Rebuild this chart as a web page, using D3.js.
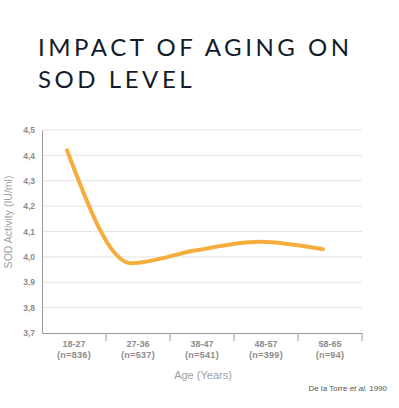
<!DOCTYPE html>
<html>
<head>
<meta charset="utf-8">
<script src="https://cdn.jsdelivr.net/npm/d3@7"></script>
<style>
  body { margin: 0; background: #fff; }
  svg { display: block; }
</style>
</head>
<body>
<div id="chart"></div>
<script>
// data
const ageGroups = ["18-27", "27-36", "38-47", "48-57", "58-65"];
const sampleSizes = ["(n=836)", "(n=537)", "(n=541)", "(n=399)", "(n=94)"];
const sodValues = [4.42, 3.975, 4.025, 4.06, 4.03];
const yTicks = [3.7, 3.8, 3.9, 4.0, 4.1, 4.2, 4.3, 4.4, 4.5];
const titleLines = ["IMPACT OF AGING ON", "SOD LEVEL"];

const width = 399, height = 408;
const margin = { top: 130, right: 37, bottom: 75, left: 42 };
const innerW = 362 - margin.left;
const innerH = 333 - margin.top;

const svg = d3.select("#chart")
  .append("svg")
  .attr("width", width)
  .attr("height", height);

// title
svg.append("g")
  .selectAll("text")
  .data(titleLines)
  .enter()
  .append("text")
  .attr("x", 38)
  .attr("y", (d, i) => 56 + i * 31.5)
  .attr("font-family", "Lato, 'Noto Sans', sans-serif")
  .attr("font-size", 24)
  .attr("letter-spacing", 3.55)
  .attr("fill", "#131c2a")
  .text(d => d);

const g = svg.append("g")
  .attr("transform", "translate(" + margin.left + "," + margin.top + ")");

const x = d3.scaleBand()
  .domain(ageGroups)
  .range([0, innerW]);

const y = d3.scaleLinear()
  .domain([3.7, 4.5])
  .range([innerH, 0]);

const fmt = d => d3.format(".1f")(d).replace(".", ",");

// gridlines
g.append("g")
  .selectAll("line")
  .data(yTicks.slice(1))
  .enter()
  .append("line")
  .attr("x1", 0)
  .attr("x2", innerW)
  .attr("y1", d => y(d))
  .attr("y2", d => y(d))
  .attr("stroke", "#e4e4e4")
  .attr("stroke-width", 1);

// y axis
const yAxis = g.append("g")
  .call(d3.axisLeft(y).tickValues(yTicks).tickFormat(fmt).tickSize(0).tickPadding(7));
yAxis.select(".domain").attr("stroke", "#9a9a9a");
yAxis.selectAll("text")
  .attr("font-family", "'Liberation Sans', Arial, sans-serif")
  .attr("font-size", 8.5)
  .attr("font-weight", "bold")
  .attr("fill", "#8c8c8c");

// x axis
const xAxis = g.append("g")
  .attr("transform", "translate(0," + innerH + ")")
  .call(d3.axisBottom(x).tickSize(0).tickFormat(""));
xAxis.select(".domain").attr("stroke", "#9a9a9a");

// tick separators between bands
g.append("g")
  .selectAll("line")
  .data(ageGroups)
  .enter()
  .append("line")
  .attr("x1", d => x(d) + x.bandwidth())
  .attr("x2", d => x(d) + x.bandwidth())
  .attr("y1", innerH)
  .attr("y2", innerH + 8)
  .attr("stroke", "#9a9a9a");

const labels = g.append("g")
  .selectAll("text")
  .data(ageGroups)
  .enter()
  .append("text")
  .attr("x", d => x(d) + x.bandwidth() / 2)
  .attr("text-anchor", "middle")
  .attr("font-family", "'Liberation Sans', Arial, sans-serif")
  .attr("font-size", 9)
  .attr("font-weight", "bold")
  .attr("fill", "#8c8c8c");
labels.append("tspan")
  .attr("x", d => x(d) + x.bandwidth() / 2)
  .attr("y", innerH + 14)
  .text(d => d);
labels.append("tspan")
  .attr("x", d => x(d) + x.bandwidth() / 2)
  .attr("y", innerH + 24.5)
  .attr("letter-spacing", 0.3)
  .text((d, i) => sampleSizes[i]);

// axis titles
svg.append("text")
  .attr("transform", "translate(12,222) rotate(-90)")
  .attr("text-anchor", "middle")
  .attr("font-family", "'Liberation Sans Narrow', 'Liberation Sans', sans-serif")
  .attr("font-size", 10.5)
  .attr("fill", "#a0a0a0")
  .text("SOD Activity (IU/ml)");

svg.append("text")
  .attr("x", 203)
  .attr("y", 379)
  .attr("text-anchor", "middle")
  .attr("font-family", "'Liberation Sans Narrow', 'Liberation Sans', sans-serif")
  .attr("font-size", 11)
  .attr("fill", "#a0a0a0")
  .text("Age (Years)");

const credit = svg.append("text")
  .attr("x", 387)
  .attr("y", 391)
  .attr("text-anchor", "end")
  .attr("font-family", "'Liberation Sans Narrow', 'Liberation Sans', sans-serif")
  .attr("font-size", 8)
  .attr("fill", "#555");
credit.append("tspan").text("De la Torre ");
credit.append("tspan").attr("font-style", "italic").text("et al.");
credit.append("tspan").text(" 1990");

// line
const line = d3.line()
  .x(d => x(d.age) + x.bandwidth() / 2 - 7)
  .y(d => y(d.value))
  .curve(d3.curveMonotoneX);

g.append("path")
  .datum(ageGroups.map((a, i) => ({ age: a, value: sodValues[i] })))
  .attr("d", line)
  .attr("fill", "none")
  .attr("stroke", "#f5ae3e")
  .attr("stroke-width", 4)
  .attr("stroke-linecap", "round");
</script>
</body>
</html>
